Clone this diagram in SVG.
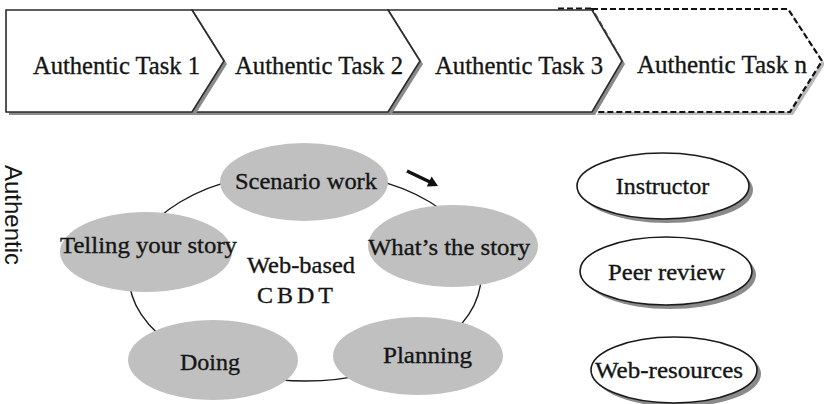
<svg xmlns="http://www.w3.org/2000/svg" width="824" height="404" viewBox="0 0 824 404">
  <style>
    .lbl { font-family: 'Liberation Serif', 'DejaVu Serif', serif; font-size: 24px; fill: #151515; stroke: #151515; stroke-width: 0.35; text-anchor: middle; }
    .big { font-size: 26px; }
    .sans { font-family: 'Liberation Sans', sans-serif; font-size: 24px; fill: #151515; }
    .chev { fill: #ffffff; stroke: #2a2a2a; stroke-width: 1.6; stroke-linejoin: miter; }
    .chev-dash { fill: #ffffff; stroke: #111111; stroke-width: 2.2; stroke-dasharray: 6 3; }
    .shadow { fill: #8a8a8a; }
    .phase { fill: #c0c0c0; }
    .support { fill: #ffffff; stroke: #1a1a1a; stroke-width: 1.6; }
    .loop { fill: none; stroke: #1a1a1a; stroke-width: 1.4; }
  </style>
  <rect width="824" height="404" fill="#ffffff"/>

  <!-- Task sequence: drawn right-to-left so each shadow falls on the next chevron -->
  <g id="task-n">
    <path class="shadow" d="M595,12 H791 L825,64 L793,115 H597 L625,64 Z" opacity="0.6"/>
    <path class="chev-dash" d="M592,9 H788 L822,61 L790,112 H594 L622,61 Z"/>
    <line x1="558" y1="8.5" x2="592" y2="8.5" stroke="#111" stroke-width="2.2" stroke-dasharray="6 3"/>
    <text class="lbl big" x="722" y="73" textLength="170" lengthAdjust="spacingAndGlyphs">Authentic Task n</text>
  </g>
  <g id="task-3">
    <path class="shadow" d="M391,13 H595 L625,64 L595,115 H391 L423,64 Z"/>
    <path class="chev" d="M388,10 H592 L622,61 L592,112 H388 L420,61 Z"/>
    <text class="lbl big" x="519" y="74" textLength="168" lengthAdjust="spacingAndGlyphs">Authentic Task 3</text>
  </g>
  <g id="task-2">
    <path class="shadow" d="M195,13 H391 L423,64 L391,115 H195 L227,64 Z"/>
    <path class="chev" d="M192,10 H388 L420,61 L388,112 H192 L224,61 Z"/>
    <text class="lbl big" x="319" y="74" textLength="168" lengthAdjust="spacingAndGlyphs">Authentic Task 2</text>
  </g>
  <g id="task-1">
    <path class="shadow" d="M9,13 H195 L227,64 L195,115 H9 Z"/>
    <path class="chev" d="M6,10 H192 L224,61 L192,112 H6 Z"/>
    <text class="lbl big" x="116.5" y="74" textLength="167" lengthAdjust="spacingAndGlyphs">Authentic Task 1</text>
  </g>

  <!-- Side label -->
  <g id="authentic-label">
    <text class="sans" transform="translate(5,165) rotate(90)" textLength="100" lengthAdjust="spacingAndGlyphs">Authentic</text>
  </g>

  <!-- Cycle ring and direction arrow -->
  <g id="connectors">
    <ellipse class="loop" cx="305" cy="276" rx="176" ry="105"/>
    <line x1="407" y1="171" x2="430" y2="182" stroke="#111" stroke-width="3.5"/>
    <polygon points="438,186 426.8,186.6 431.6,176.6" fill="#111"/>
  </g>

  <!-- Cycle phases -->
  <g id="scenario-work">
    <ellipse class="phase" cx="304" cy="182" rx="84" ry="39"/>
    <text class="lbl" x="306" y="189" textLength="142" lengthAdjust="spacingAndGlyphs">Scenario work</text>
  </g>
  <g id="whats-the-story">
    <ellipse class="phase" cx="453" cy="246" rx="85" ry="41"/>
    <text class="lbl" x="449" y="255" textLength="162" lengthAdjust="spacingAndGlyphs">What’s the story</text>
  </g>
  <g id="planning">
    <ellipse class="phase" cx="418" cy="356" rx="85" ry="39"/>
    <text class="lbl" x="427.5" y="363" textLength="89" lengthAdjust="spacingAndGlyphs">Planning</text>
  </g>
  <g id="doing">
    <ellipse class="phase" cx="213" cy="360" rx="85" ry="40"/>
    <text class="lbl" x="210" y="370">Doing</text>
  </g>
  <g id="telling-your-story">
    <ellipse class="phase" cx="146" cy="252" rx="86" ry="40"/>
    <text class="lbl" x="148.5" y="253" textLength="177" lengthAdjust="spacingAndGlyphs">Telling your story</text>
  </g>
  <g id="cbdt-center">
    <text class="lbl" x="301" y="273" textLength="108" lengthAdjust="spacingAndGlyphs">Web-based</text>
    <text class="lbl" x="295" y="303" textLength="76">CBDT</text>
  </g>

  <!-- Support resources -->
  <g id="instructor">
    <ellipse class="shadow" cx="667" cy="190" rx="86" ry="33"/>
    <ellipse class="support" cx="663" cy="186" rx="86" ry="33"/>
    <text class="lbl" x="662.5" y="194">Instructor</text>
  </g>
  <g id="peer-review">
    <ellipse class="shadow" cx="670" cy="275" rx="86" ry="34"/>
    <ellipse class="support" cx="666" cy="271" rx="86" ry="34"/>
    <text class="lbl" x="666.5" y="280" textLength="117" lengthAdjust="spacingAndGlyphs">Peer review</text>
  </g>
  <g id="web-resources">
    <ellipse class="shadow" cx="678" cy="374" rx="83" ry="33"/>
    <ellipse class="support" cx="674" cy="370" rx="83" ry="33"/>
    <text class="lbl" x="669" y="378" textLength="148" lengthAdjust="spacingAndGlyphs">Web-resources</text>
  </g>
</svg>
